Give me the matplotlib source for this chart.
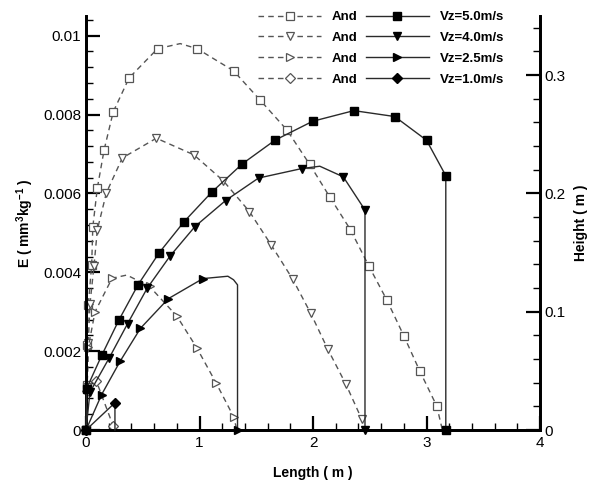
import matplotlib
matplotlib.use('Agg')
import matplotlib.pyplot as plt
from matplotlib.ticker import MultipleLocator, FixedLocator, FixedFormatter

plt.rcParams['font.family'] = ['Liberation Sans', 'DejaVu Sans']
plt.rcParams['mathtext.fontset'] = 'custom'
plt.rcParams['mathtext.rm'] = 'Liberation Sans'
plt.rcParams['mathtext.bf'] = 'Liberation Sans:bold'

# ---------------- data ----------------
# dashed "And" series: energy E (left axis) vs length
and50_len = [0, 0.005, 0.01, 0.02, 0.05, 0.06, 0.10, 0.16, 0.24, 0.38, 0.63, 0.83, 0.98, 1.30, 1.53,
             1.77, 1.97, 2.15, 2.33, 2.49, 2.65, 2.80, 2.94, 3.09, 3.14]
and50_E = [0, 0.00115, 0.00216, 0.00317, 0.00419, 0.00515, 0.00614, 0.00711, 0.00807, 0.00893, 0.00967,
           0.0098, 0.00967, 0.00911, 0.00838, 0.00761, 0.00674, 0.0059, 0.00508, 0.00417, 0.0033,
           0.00239, 0.0015, 0.00061, 0.0]

and40_len = [0, 0.01, 0.02, 0.035, 0.07, 0.10, 0.18, 0.32, 0.62, 0.95, 1.21, 1.44, 1.63, 1.82, 1.98,
             2.13, 2.29, 2.43, 2.44]
and40_E = [0, 0.0011, 0.0022, 0.0032, 0.00415, 0.00508, 0.00602, 0.0069, 0.0074, 0.00698, 0.00632,
           0.00554, 0.0047, 0.00383, 0.00296, 0.00205, 0.00116, 0.00027, 0.0]

and25_len = [0, 0.01, 0.02, 0.08, 0.23, 0.36, 0.56, 0.80, 0.975, 1.145, 1.30, 1.33]
and25_E = [0, 0.0011, 0.0021, 0.0030, 0.00385, 0.00393, 0.00364, 0.00289, 0.00209, 0.0012, 0.00034, 0.0]

and10_len = [0, 0.01, 0.09, 0.24]
and10_E = [0, 0.0010, 0.00125, 0.0001]

# solid Vz series: height (right axis) vs length
vz50_len = [0, 0.005, 0.138, 0.29, 0.46, 0.646, 0.863, 1.107, 1.377, 1.665, 1.997, 2.36, 2.72, 3.0, 3.17, 3.17]
vz50_h = [0, 0.035, 0.063, 0.093, 0.123, 0.150, 0.176, 0.201, 0.225, 0.245, 0.261, 0.270, 0.265, 0.245, 0.215, 0]

vz40_len = [0, 0.035, 0.205, 0.367, 0.54, 0.74, 0.96, 1.23, 1.52, 1.90, 2.06, 2.267, 2.458, 2.458]
vz40_h = [0, 0.032, 0.061, 0.090, 0.120, 0.147, 0.172, 0.194, 0.213, 0.221, 0.223, 0.214, 0.186, 0]

vz25_len = [0, 0.138, 0.30, 0.48, 0.725, 1.03, 1.25, 1.30, 1.335, 1.335]
vz25_h = [0, 0.030, 0.058, 0.086, 0.111, 0.128, 0.130, 0.127, 0.1227, 0]

vz10_len = [0, 0.255, 0.255]
vz10_h = [0, 0.023, 0]

and_labels = ['And', 'And', 'And', 'And']
vz_labels = ['Vz=5.0m/s', 'Vz=4.0m/s', 'Vz=2.5m/s', 'Vz=1.0m/s']

x_ticks = [0, 1, 2, 3, 4]
e_ticks = [0, 0.002, 0.004, 0.006, 0.008, 0.01]
e_tick_labels = ['0', '0.002', '0.004', '0.006', '0.008', '0.01']
h_ticks = [0, 0.1, 0.2, 0.3]
h_tick_labels = ['0', '0.1', '0.2', '0.3']

# ---------------- plot ----------------
W, H = 593, 480
fig = plt.figure(figsize=(W / 100, H / 100), dpi=100)
ax = fig.add_axes([86 / W, 1 - 430 / H, (540 - 86) / W, (430 - 16) / H])
ax2 = ax.twinx()

dash_col = '#555555'
open_kw = dict(color=dash_col, lw=1.0, ls=(0, (4, 3)), mfc='white', mec='#555555', mew=0.9, clip_on=False)
solid_kw = dict(color='#2a2a2a', lw=1.0, ls='-', mfc='black', mec='black', clip_on=False)

and_series = [(and50_len, and50_E, 's', 5.5, [i for i in range(len(and50_len)) if i not in (11, 24)]),
              (and40_len, and40_E, 'v', 6.0, list(range(len(and40_len) - 1))),
              (and25_len, and25_E, '>', 6.0, [i for i in range(len(and25_len)) if i not in (5, 11)]),
              (and10_len, and10_E, 'D', 5.0, list(range(len(and10_len))))]
vz_series = [(vz50_len, vz50_h, 's', 5.5, list(range(len(vz50_len)))),
             (vz40_len, vz40_h, 'v', 6.0, [i for i in range(len(vz40_len)) if i != 10]),
             (vz25_len, vz25_h, '>', 6.0, [0, 1, 2, 3, 4, 5, 9]),
             (vz10_len, vz10_h, 'D', 5.0, [0, 1])]

and_handles = []
for (xs, ys, m, ms, me), lab in zip(and_series, and_labels):
    ln, = ax.plot(xs, ys, marker=m, ms=ms, markevery=me, label=lab, **open_kw)
    and_handles.append(ln)

vz_handles = []
for (xs, ys, m, ms, me), lab in zip(vz_series, vz_labels):
    ln, = ax2.plot(xs, ys, marker=m, ms=ms, markevery=me, label=lab, zorder=3, **solid_kw)
    vz_handles.append(ln)

ax.set_xlim(0, 4)
ax.set_ylim(0, 0.0105)
ax2.set_ylim(0, 0.35)

ax.xaxis.set_major_locator(FixedLocator(x_ticks))
ax.xaxis.set_minor_locator(MultipleLocator(0.2))
ax.yaxis.set_major_locator(FixedLocator(e_ticks))
ax.yaxis.set_major_formatter(FixedFormatter(e_tick_labels))
ax.yaxis.set_minor_locator(MultipleLocator(0.0004))
ax2.yaxis.set_major_locator(FixedLocator(h_ticks))
ax2.yaxis.set_major_formatter(FixedFormatter(h_tick_labels))
ax2.yaxis.set_minor_locator(MultipleLocator(0.02))

for a in (ax, ax2):
    a.spines['top'].set_visible(False)
    for s in ('left', 'right', 'bottom'):
        a.spines[s].set_linewidth(2.0)
    a.tick_params(which='major', direction='in', length=10, width=1.6, labelsize=11, colors='black')
    a.tick_params(which='minor', direction='in', length=5, width=1.0)
ax.tick_params(axis='y', which='both', right=False)
ax.tick_params(axis='x', which='both', top=False, pad=4)
ax2.tick_params(axis='y', which='both', left=False)

ax.set_xlabel('Length ( m )', fontsize=10, fontweight='bold', labelpad=12)
ax.set_ylabel(r'E ( mm$^\mathbf{3}$kg$^\mathbf{-1}$ )', fontsize=10, fontweight='bold', labelpad=5)
ax2.set_ylabel('Height ( m )', fontsize=10, fontweight='bold', labelpad=6)

handles = and_handles + vz_handles
labels = and_labels + vz_labels
fig.legend(handles, labels, ncol=2, loc='upper left', bbox_to_anchor=(258 / W, 1 - 11 / H),
           frameon=False, prop={'weight': 'bold', 'size': 9.5}, handlelength=4.8,
           handletextpad=0.8, columnspacing=0.6, labelspacing=0.65, numpoints=1,
           borderpad=0, borderaxespad=0)

fig.savefig('out.png', dpi=100)
